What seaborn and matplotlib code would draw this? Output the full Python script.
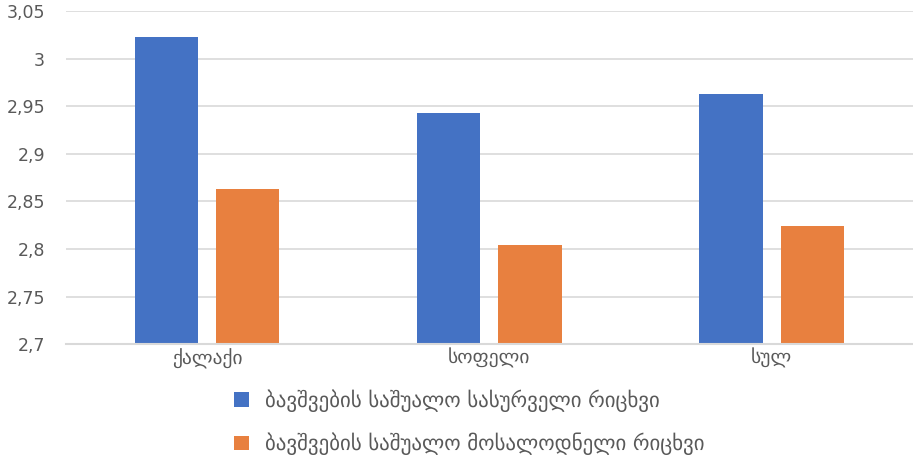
import matplotlib
matplotlib.use("Agg")
import matplotlib.pyplot as plt
import matplotlib.ticker as mticker
import seaborn as sns
import pandas as pd

# data
categories = ["ქალაქი", "სოფელი", "სულ"]
series_names = ["ბავშვების საშუალო სასურველი რიცხვი",
                "ბავშვების საშუალო მოსალოდნელი რიცხვი"]
desired = [3.023, 2.943, 2.963]
expected = [2.863, 2.804, 2.824]
y_ticks = [2.7, 2.75, 2.8, 2.85, 2.9, 2.95, 3.0, 3.05]

colors = ["#4472C4", "#E8803F"]

df = pd.DataFrame({
    "category": categories * 2,
    "series": [series_names[0]] * 3 + [series_names[1]] * 3,
    "value": desired + expected,
})

sns.set_theme(style="white")
plt.rcParams["font.family"] = ["DejaVu Sans"]

fig = plt.figure(figsize=(9.13, 4.57), dpi=100)
ax = fig.add_axes([0.072, 0.247, 0.928, 0.729])

sns.barplot(data=df, x="category", y="value", hue="series",
            palette=colors, saturation=1, width=0.576, gap=0.222, ax=ax,
            edgecolor="none", linewidth=0)

ax.set_ylim(2.7, 3.05)
ax.set_yticks(y_ticks)
ax.yaxis.set_major_formatter(mticker.FuncFormatter(
    lambda v, p: ("%g" % round(v, 2)).replace(".", ",")))
ax.set_xlim(-0.5, 2.5)
ax.grid(axis="y", color="#D9D9D9", linewidth=1.2)
ax.set_axisbelow(True)
for s in ["top", "right", "left"]:
    ax.spines[s].set_visible(False)
ax.spines["bottom"].set_color("#D9D9D9")
ax.spines["bottom"].set_linewidth(1.5)
ax.set_xlabel("")
ax.set_ylabel("")
ax.tick_params(axis="both", length=0, colors="#595959")
ax.tick_params(axis="y", labelsize=12.5, pad=15)
ax.tick_params(axis="x", labelsize=14, pad=3)

sns.move_legend(ax, loc="center left", bbox_to_anchor=(0.236, 0.076),
                bbox_transform=fig.transFigure, frameon=False, title=None,
                fontsize=15, labelcolor="#595959", handlelength=0.7,
                handleheight=0.7, handletextpad=0.8, labelspacing=1.0)

fig.savefig("out.png", dpi=100)
